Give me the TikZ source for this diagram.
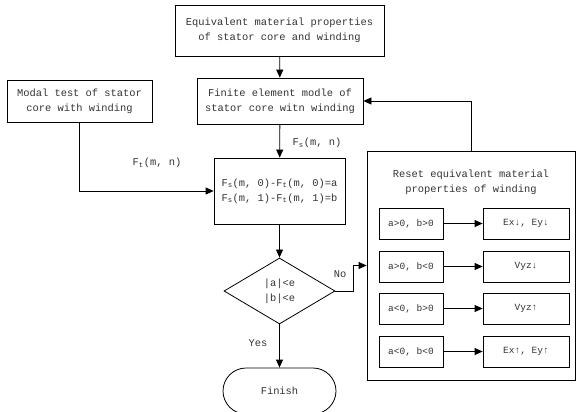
\documentclass[tikz,border=0pt]{standalone}
\usepackage{fontspec}
\setmainfont{Liberation Mono}
\usetikzlibrary{arrows.meta,shapes.geometric}
\begin{document}
\begin{tikzpicture}[x=1pt,y=-1pt,
  box/.style={draw, line width=0.8pt, align=center, text=black!80, font=\fontsize{10.4}{15}\selectfont, inner sep=0pt},
  arr/.style={-{Triangle[length=8pt,width=7pt]}, line width=0.8pt},
  lbl/.style={text=black!80, font=\fontsize{10.4}{12}\selectfont, inner sep=0pt}]
\useasboundingbox (0,0) rectangle (576,412);
\node[box, minimum width=209, minimum height=51] (top) at (279.5,30.5) {Equivalent material properties\\of stator core and winding};
\node[box, minimum width=166, minimum height=46] (fem) at (280,101) {Finite element modle of\\stator core witn winding};
\node[box, minimum width=145, minimum height=42] (modal) at (79.5,101) {Modal test of stator\\core with winding};
\node[box, minimum width=131, minimum height=66] (calc) at (279.5,191) {F\textsubscript{s}(m, 0)-F\textsubscript{t}(m, 0)=a\\F\textsubscript{s}(m, 1)-F\textsubscript{t}(m, 1)=b};
\node[box, diamond, minimum width=111, minimum height=66] (dec) at (279.5,291) {|a|<e\\|b|<e};
\node[box, rounded corners=23pt, minimum width=113, minimum height=46] (fin) at (279.5,391) {Finish};
\node[draw, line width=0.8pt, minimum width=208, minimum height=229, inner sep=0pt] (panel) at (471,265.5) {};
\node[box, draw=none] (title) at (471,182) {Reset equivalent material\\properties of winding};
\foreach \i/\y/\l/\r in {1/223.5/{a>0, b>0}/{Ex↓, Ey↓}, 2/266.5/{a>0, b<0}/{Vyz↓}, 3/308.5/{a<0, b>0}/{Vyz↑}, 4/351.5/{a<0, b<0}/{Ex↑, Ey↑}}{
  \node[box, font=\fontsize{9.5}{12}\selectfont, minimum width=64, minimum height=31] (l\i) at (411,\y) {\l};
  \node[box, font=\fontsize{9.5}{12}\selectfont, minimum width=86, minimum height=31] (r\i) at (526,\y) {\r};
  \draw[arr] (l\i) -- (r\i);
}
\draw[arr] (top) -- (fem);
\draw[arr] (fem) -- (calc);
\draw[arr] (modal.south) |- (calc.west);
\draw[arr] (calc) -- (dec);
\draw[arr] (dec) -- (fin);
\coordinate (nobend) at (353,291);
\draw[arr] (dec.east) -- (nobend) |- (panel.west);
\draw[arr] (panel.north) |- (fem.east);
\node[lbl] (fs) at (317,143) {F\textsubscript{s}(m, n)};
\node[lbl] (ft) at (157,163) {F\textsubscript{t}(m, n)};
\node[lbl] (yes) at (258,343) {Yes};
\node[lbl] (no) at (340,274) {No};
\end{tikzpicture}
\end{document}
